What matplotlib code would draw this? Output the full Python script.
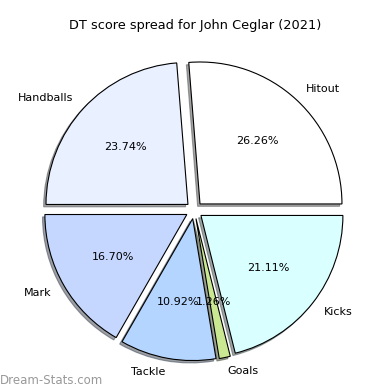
import matplotlib
matplotlib.use("Agg")
import matplotlib.pyplot as plt

labels = ["Hitout", "Handballs", "Mark", "Tackle", "Goals", "Kicks"]
values = [26.26, 23.74, 16.70, 10.92, 1.26, 21.11]
colors = ["#ffffff", "#e9f0ff", "#c5d6ff", "#b4d5ff", "#c9e891", "#d9ffff"]
explode = [0.06] * len(values)

fig = plt.figure(figsize=(3.9, 3.9), dpi=100)
ax = fig.add_axes([0.043, 0.006, 0.91, 0.91])
ax.pie(values, labels=labels, colors=colors, autopct="%1.2f%%",
       startangle=0, explode=explode,
       shadow={"ox": -0.012, "oy": -0.012},
       wedgeprops={"edgecolor": "black", "linewidth": 0.8},
       textprops={"fontsize": 8})
ax.set_aspect("equal")
fig.suptitle("DT score spread for John Ceglar (2021)", fontsize=9.3, y=0.95)
fig.text(0.0, 0.015, "Dream-Stats.com", fontsize=8.5, color="#999999")
fig.savefig("out.png", dpi=100)
